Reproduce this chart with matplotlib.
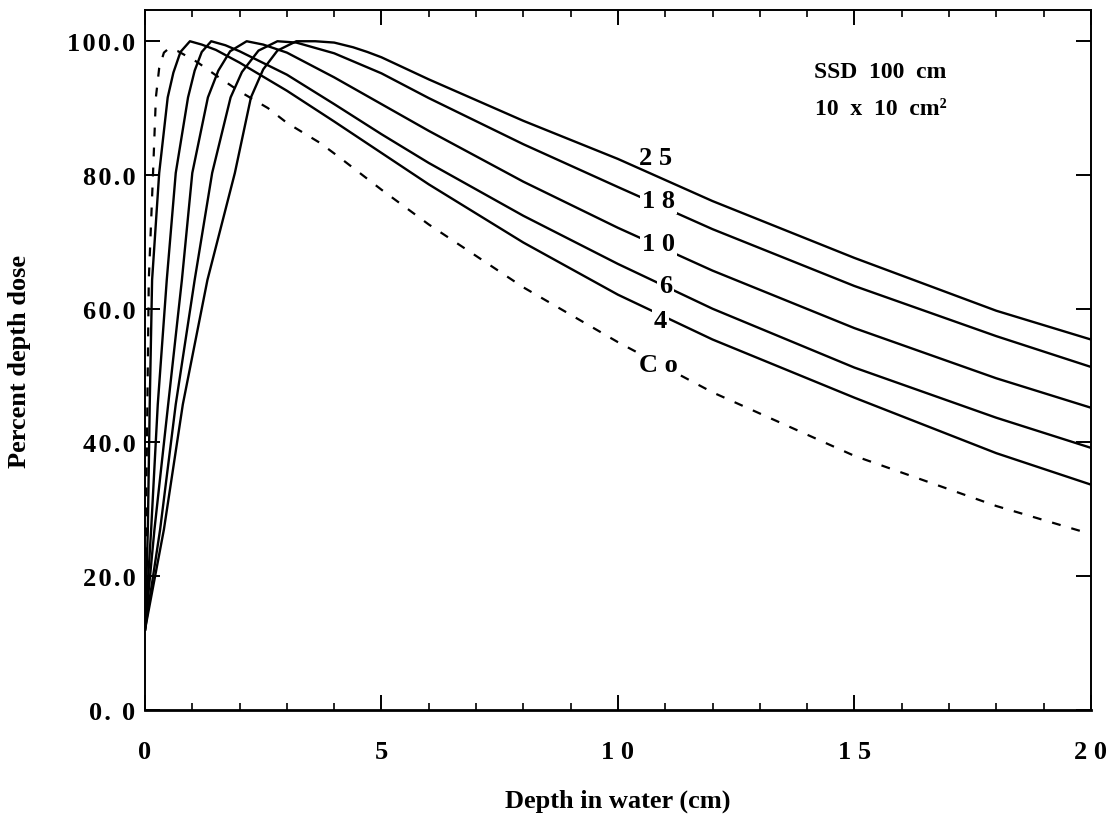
import numpy as np
import matplotlib
matplotlib.use("Agg")
import matplotlib.pyplot as plt
from matplotlib.ticker import MultipleLocator

plt.rcParams['font.family'] = ['Liberation Serif', 'DejaVu Serif']
plt.rcParams['font.weight'] = 'bold'

# depth (cm) / percent depth dose
co_depth = [0, 0.02, 0.05, 0.08, 0.17, 0.23, 0.3, 0.4, 0.5, 0.7, 1.1, 1.5, 2, 2.6, 3, 3.7, 4.1, 5, 6, 8, 10, 12, 15, 18, 20]
co_dose = [14, 27, 45.7, 64.3, 80.3, 91.6, 96.0, 98.3, 98.9, 98.5, 96.9, 94.9, 92.5, 90.0, 87.8, 84.8, 82.7, 77.8, 72.6, 63.2, 55.0, 47.5, 38.0, 30.5, 26.3]

mv4_depth = [0, 0.06, 0.1, 0.15, 0.3, 0.48, 0.6, 0.75, 0.95, 1.2, 1.5, 2, 3, 4, 5, 6, 8, 10, 12, 15, 18, 20]
mv4_dose = [12, 27, 45.7, 64.3, 80.3, 91.6, 95.3, 98.4, 100, 99.5, 98.7, 96.8, 92.6, 88.0, 83.3, 78.6, 69.9, 62.1, 55.4, 46.7, 38.4, 33.7]

mv6_depth = [0, 0.13, 0.27, 0.46, 0.65, 0.91, 1.05, 1.2, 1.4, 1.7, 2, 3, 4, 5, 6, 8, 10, 12, 15, 18, 20]
mv6_dose = [12, 27, 45.7, 64.3, 80.3, 91.6, 95.6, 98.4, 100, 99.4, 98.5, 95.0, 90.6, 86.1, 81.8, 73.9, 66.7, 60.0, 51.2, 43.7, 39.2]

mv10_depth = [0, 0.2, 0.49, 0.78, 1.0, 1.33, 1.55, 1.8, 2.15, 2.5, 3, 4, 5, 6, 8, 10, 12, 15, 18, 20]
mv10_dose = [12, 27, 45.7, 64.3, 80.3, 91.6, 95.6, 98.5, 100, 99.5, 98.3, 94.6, 90.6, 86.6, 79.0, 72.1, 65.7, 57.1, 49.6, 45.2]

mv18_depth = [0, 0.32, 0.65, 1.05, 1.42, 1.81, 2.05, 2.4, 2.8, 3.2, 4, 5, 6, 8, 10, 12, 15, 18, 20]
mv18_dose = [12, 27, 45.7, 64.3, 80.3, 91.6, 95.4, 98.6, 100, 99.8, 98.2, 95.2, 91.5, 84.6, 78.2, 71.9, 63.4, 55.9, 51.3]

mv25_depth = [0, 0.4, 0.8, 1.32, 1.9, 2.24, 2.5, 2.8, 3.2, 3.6, 4.0, 4.4, 4.7, 5, 6, 8, 10, 12, 15, 18, 20]
mv25_dose = [12, 27, 45.7, 64.3, 80.3, 91.6, 95.8, 98.6, 100, 100, 99.8, 99.1, 98.4, 97.6, 94.3, 88.1, 82.4, 76.1, 67.6, 59.7, 55.4]

curve_names = ["2 5", "1 8", "1 0", "6", "4", "C o"]
name_x = [10.8, 10.85, 10.85, 11.0, 10.9, 10.85]
name_y = [82.6, 76.2, 69.8, 63.4, 58.2, 51.6]

hs = "\u200a"
x_ticks = [0, 5, 10, 15, 20]
x_ticklabels = ["0", "5", "1 0", "1 5", "2 0"]
y_ticks = [0, 20, 40, 60, 80, 100]
y_ticklabels = [hs.join(s) for s in ["0. 0", "20.0", "40.0", "60.0", "80.0", "100.0"]]

fig = plt.figure(figsize=(11.18, 8.2), dpi=100)
ax = fig.add_axes([0.1297, 0.133, 0.846, 0.853])

lw = 1.7
for d, v in [(mv25_depth, mv25_dose), (mv18_depth, mv18_dose), (mv10_depth, mv10_dose),
             (mv6_depth, mv6_dose), (mv4_depth, mv4_dose)]:
    ax.plot(d, v, color='black', lw=lw, solid_joinstyle='round')
ax.plot(co_depth, co_dose, color='black', lw=1.6, linestyle=(0, (4, 5)))

for i, (name, x, y) in enumerate(zip(curve_names, name_x, name_y)):
    box = None if i == 0 else dict(facecolor='white', edgecolor='none', pad=1.5)
    ax.text(x, y, name, ha='center', va='center', fontsize=19, fontweight='bold', bbox=box, zorder=5)

ax.text(15.55, 95.5, "SSD  100  cm", ha='center', va='center', fontsize=17, fontweight='bold')
ax.text(15.55, 89.9, "10  x  10  cm\u00b2", ha='center', va='center', fontsize=17, fontweight='bold')

ax.set_xlim(0, 20)
ax.set_ylim(0, 104.6)
ax.set_xticks(x_ticks)
ax.set_xticklabels(x_ticklabels)
ax.set_yticks(y_ticks)
ax.set_yticklabels(y_ticklabels)
ax.xaxis.set_minor_locator(MultipleLocator(1))

ax.tick_params(axis='both', which='major', direction='in', length=11, width=1.4,
               labelsize=19, top=True, right=True)
ax.tick_params(axis='x', which='major', pad=22)
ax.tick_params(axis='y', which='major', pad=7)
ax.tick_params(axis='x', which='minor', direction='in', length=5, width=1.2, top=True)

for side in ['left', 'right', 'top']:
    ax.spines[side].set_linewidth(1.4)
ax.spines['bottom'].set_linewidth(2.0)

ax.set_xlabel("Depth in water (cm)", fontsize=19, fontweight='bold')
ax.set_ylabel("Percent depth dose", fontsize=19, fontweight='bold')
ax.xaxis.set_label_coords(0.5, -0.112)
ax.yaxis.set_label_coords(-0.121, 0.5)

fig.savefig("out.png", dpi=100)
